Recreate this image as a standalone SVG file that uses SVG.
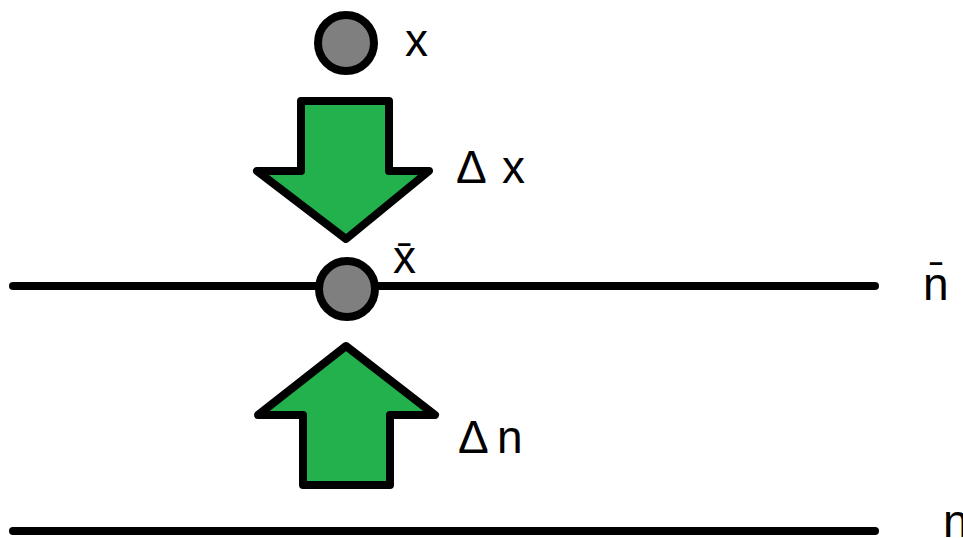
<svg xmlns="http://www.w3.org/2000/svg" width="963" height="538" viewBox="0 0 963 538">
<style>
.ln{stroke:#000;stroke-width:8;stroke-linecap:round;fill:none}
.dot{fill:#7f7f7f;stroke:#000;stroke-width:8}
.arr{fill:#22b14c;stroke:#000;stroke-width:8;stroke-linejoin:round}
.t{font-family:"Liberation Sans","DejaVu Sans",sans-serif;font-size:46px;fill:#000}
.d{font-size:46px}
</style>
<rect width="963" height="538" fill="#fff"/>
<g id="connectors">
<line class="ln" x1="13" y1="286" x2="875" y2="286"/>
<line class="ln" x1="13" y1="531" x2="875" y2="531"/>
</g>
<g id="node-x">
<circle class="dot" cx="346" cy="43" r="28"/>
<text class="t" x="405" y="56">x</text>
</g>
<g id="node-dx">
<polygon class="arr" points="301,101 389,101 389,171 429,171 346,239 257,171 301,171"/>
<text class="t" x="456" y="183"><tspan class="d">Δ</tspan><tspan x="502">x</tspan></text>
</g>
<g id="node-xbar">
<circle class="dot" cx="347" cy="289" r="28"/>
<text class="t" x="393" y="273">x̄</text>
</g>
<g id="node-dn">
<polygon class="arr" points="346,346 435,415 390,415 390,485 303,485 303,415 258,415"/>
<text class="t" x="458" y="453"><tspan class="d">Δ</tspan><tspan x="497">n</tspan></text>
</g>
<g id="node-nbar">
<text class="t" x="923" y="300">n̄</text>
</g>
<g id="node-n">
<text class="t" x="943" y="537">n</text>
</g>
</svg>
